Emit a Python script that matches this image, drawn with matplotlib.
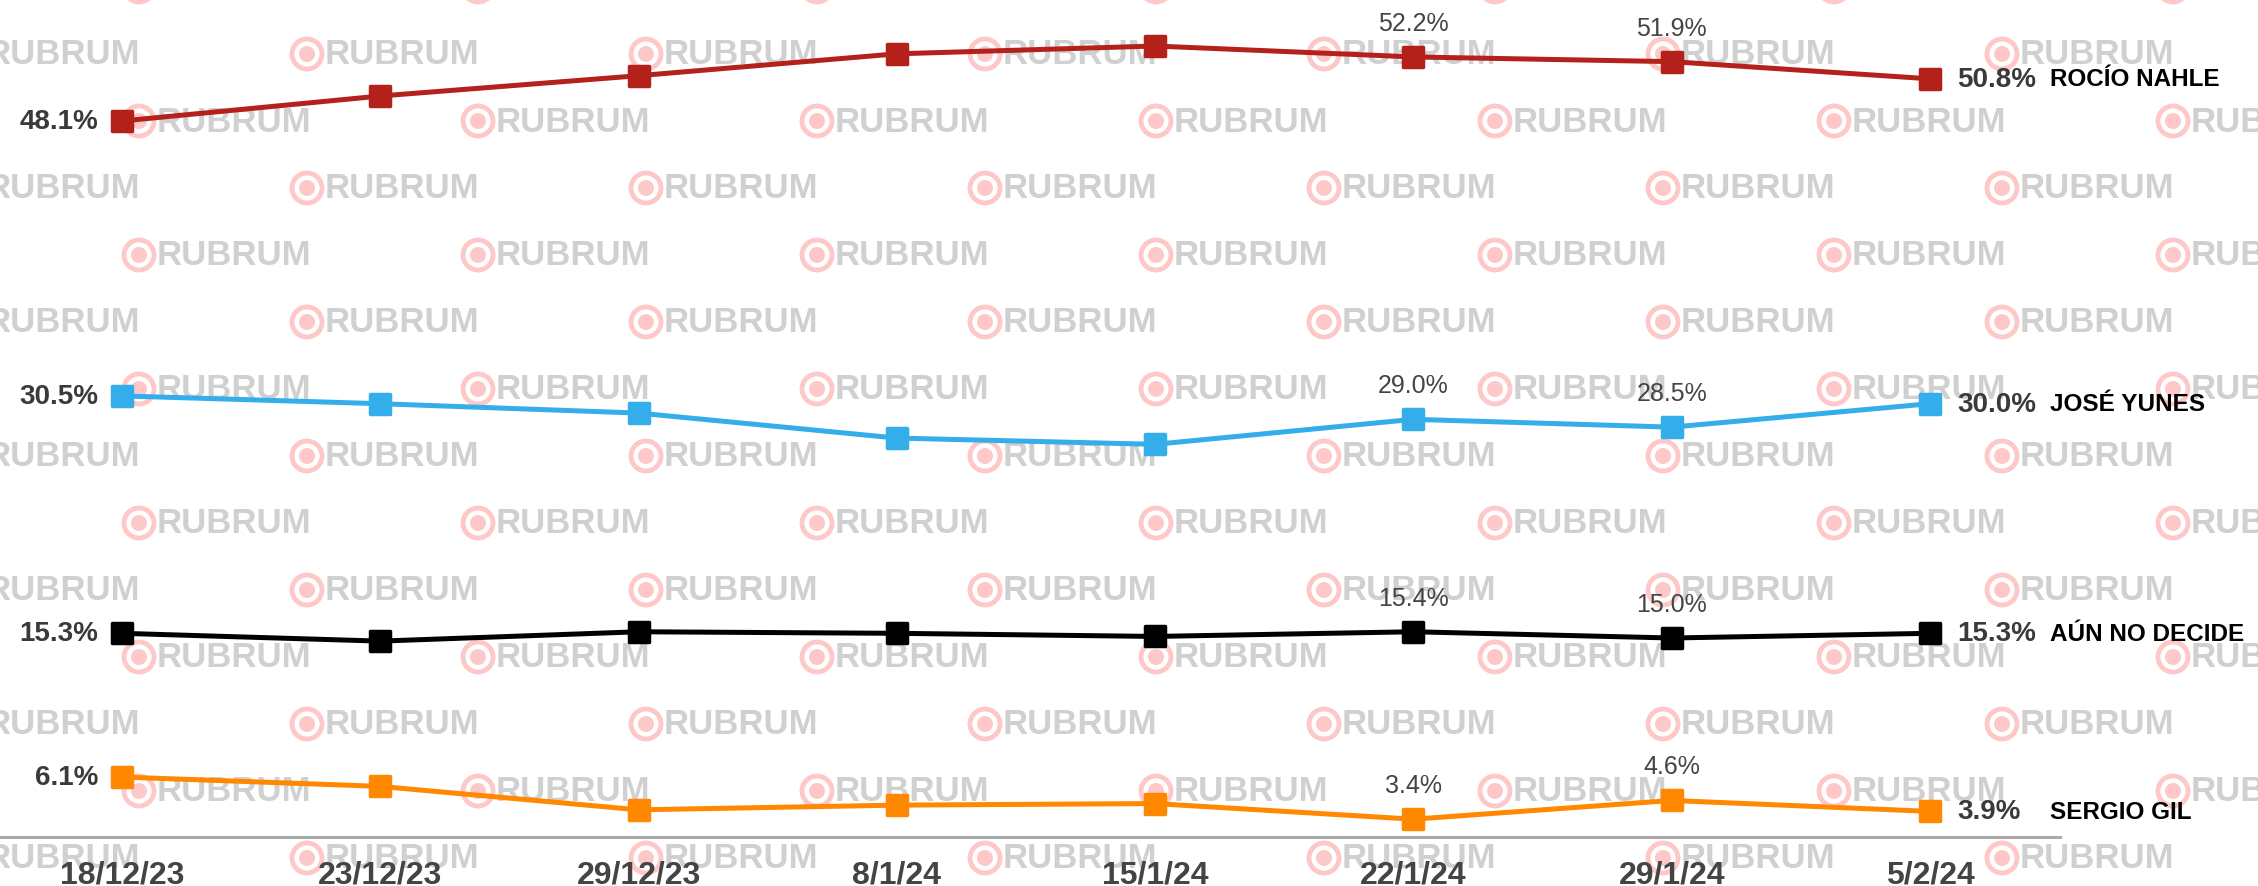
import matplotlib
matplotlib.use("Agg")
import matplotlib.pyplot as plt
from matplotlib.markers import MarkerStyle
from matplotlib.patches import Circle

# survey dates and series values (%)
fechas = ["18/12/23", "23/12/23", "29/12/23", "8/1/24", "15/1/24", "22/1/24", "29/1/24", "5/2/24"]
rocio = [48.1, 49.7, 51.0, 52.4, 52.9, 52.2, 51.9, 50.8]
jose = [30.5, 30.0, 29.4, 27.8, 27.4, 29.0, 28.5, 30.0]
aun = [15.3, 14.8, 15.4, 15.3, 15.1, 15.4, 15.0, 15.3]
sergio = [6.1, 5.5, 4.0, 4.3, 4.4, 3.4, 4.6, 3.9]

nombres = ["ROCÍO NAHLE", "JOSÉ YUNES", "AÚN NO DECIDE", "SERGIO GIL"]
colores = ["#b3211a", "#33aeea", "#000000", "#ff8800"]
series = [rocio, jose, aun, sergio]

# points that carry a label above the marker
idx_etiqueta = [5, 6]

W, H = 2258, 887
fig = plt.figure(figsize=(W / 100, H / 100), dpi=100)
fig.patch.set_facecolor("white")

# ===== watermark layer (pixel coordinates) =====
bg = fig.add_axes([0, 0, 1, 1])
bg.set_xlim(0, W)
bg.set_ylim(H, 0)
bg.axis("off")

fila_y0, fila_dy = 55, 67
col_dx = 339
for k in range(-1, 15):
    y = fila_y0 + k * fila_dy
    x0 = -50 if k % 2 == 0 else 121
    for j in range(-1, 8):
        xl = x0 + j * col_dx
        cx = xl + 18
        bg.add_patch(Circle((cx, y), 15, fill=False, ec="#ffc8c8", lw=3.5))
        bg.add_patch(Circle((cx, y), 8, fc="#ffc8c8", ec="none"))
        bg.text(xl + 36, y, "RUBRUM", fontsize=25, color="#d0d0d0",
                fontweight="bold", family="Liberation Sans",
                ha="left", va="center")

# ===== main chart =====
px_x = 258.3
ax = fig.add_axes([0, 49 / H, 2060 / W, 838 / H])
ax.set_facecolor("none")
ax.set_xlim(-122 / px_x, 7 + 130 / px_x)
ax.set_ylim(2.26, 55.91)

for s in ["top", "left", "right"]:
    ax.spines[s].set_visible(False)
ax.spines["bottom"].set_color("#aaaaaa")
ax.spines["bottom"].set_linewidth(2.2)
ax.set_yticks([])
ax.set_xticks(range(len(fechas)))
ax.set_xticklabels(fechas, fontsize=23, fontweight="bold", color="#444444",
                   family="Liberation Sans")
ax.tick_params(axis="x", length=0, pad=16)

x = list(range(len(fechas)))
mk = MarkerStyle("s", joinstyle="round")
for vals, nombre, col in zip(series, nombres, colores):
    ax.plot(x, vals, color=col, lw=3.6, marker=mk, ms=14, mec=col, mew=2.5,
            mfc=col, clip_on=False, zorder=3)

    # first value, left of the marker
    ax.annotate(f"{vals[0]:.1f}%", (x[0], vals[0]), xytext=(-24, 0),
                textcoords="offset pixels", ha="right", va="center",
                fontsize=20, fontweight="bold", color="#3a3a3a",
                family="Liberation Sans")
    # last value and name, right of the marker
    ax.annotate(f"{vals[-1]:.1f}%", (x[-1], vals[-1]), xytext=(27, 0),
                textcoords="offset pixels", ha="left", va="center",
                fontsize=20, fontweight="bold", color="#3a3a3a",
                family="Liberation Sans", annotation_clip=False)
    ax.annotate(nombre, (x[-1], vals[-1]), xytext=(120, 0),
                textcoords="offset pixels", ha="left", va="center",
                fontsize=17.5, fontweight="bold", color="#000000",
                family="Liberation Sans", annotation_clip=False)
    # labels above selected points
    for i in idx_etiqueta:
        ax.annotate(f"{vals[i]:.1f}%", (x[i], vals[i]), xytext=(0, 34),
                    textcoords="offset pixels", ha="center", va="center",
                    fontsize=18, color="#444444", family="Liberation Sans")

fig.savefig("out.png", dpi=100)
plt.close(fig)
